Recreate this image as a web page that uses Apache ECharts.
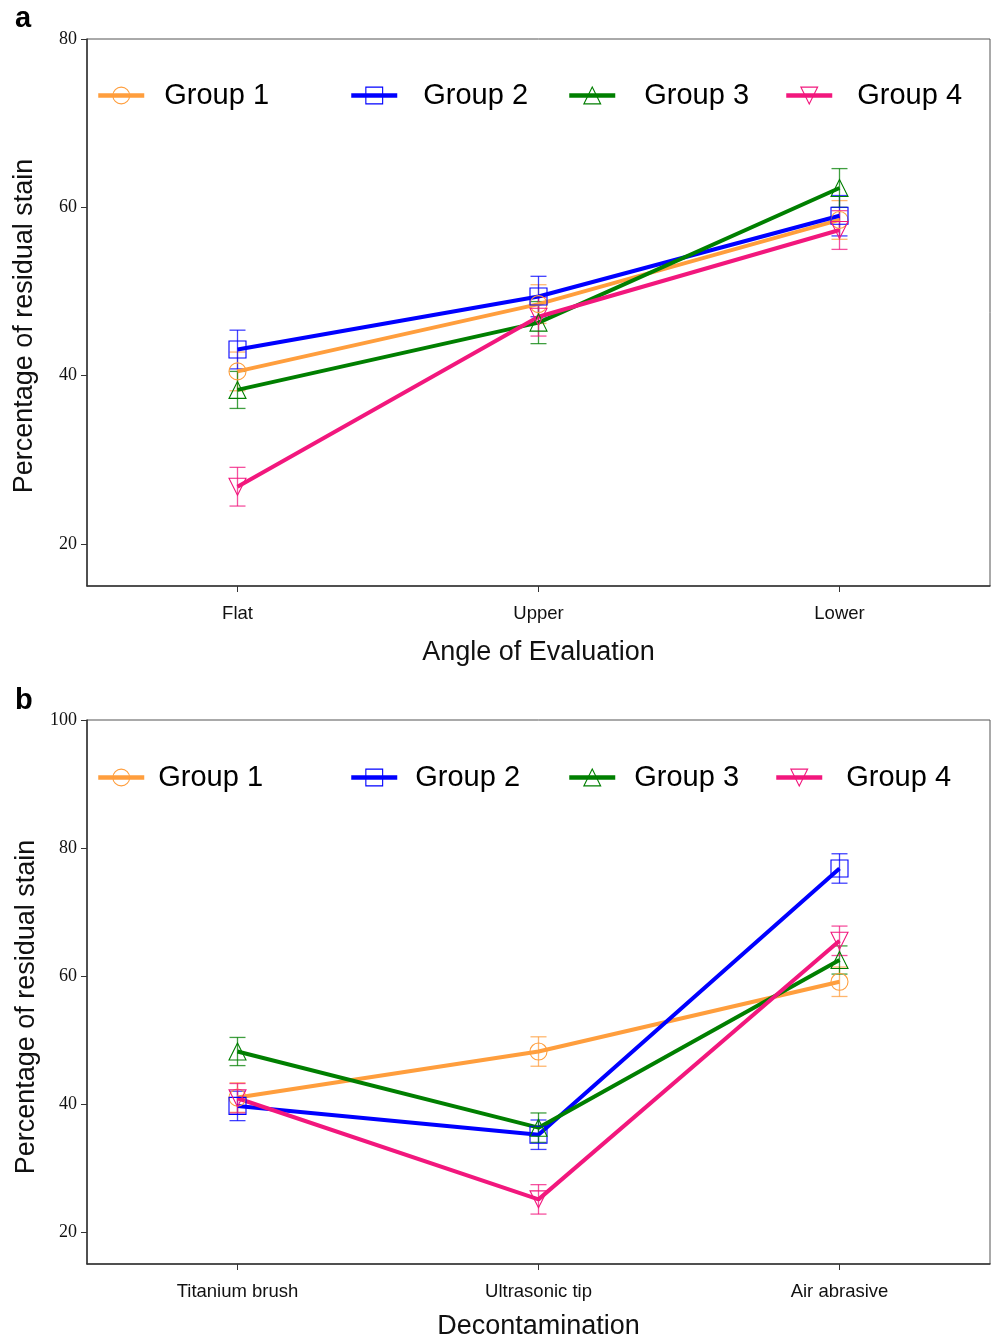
<!DOCTYPE html>
<html>
<head>
<meta charset="utf-8">
<script src="https://cdn.jsdelivr.net/npm/echarts@6/dist/echarts.min.js"></script>
<style>
html,body{margin:0;padding:0;background:#fff;overflow:hidden;}
#chart{width:992px;height:1341px;}
</style>
</head>
<body>
<div id="chart"></div>
<script>
// ---- data ----
const groupNames = ['Group 1', 'Group 2', 'Group 3', 'Group 4'];
const categoriesA = ['Flat', 'Upper', 'Lower'];
const categoriesB = ['Titanium brush', 'Ultrasonic tip', 'Air abrasive'];
const yTicksA = [20, 40, 60, 80];
const yTicksB = [20, 40, 60, 80, 100];
const xTitleA = 'Angle of Evaluation';
const xTitleB = 'Decontamination';
const yTitle = 'Percentage of residual stain';

const a_g1 = [40.5, 48.5, 58.5];
const a_g2 = [43.1, 49.4, 59.0];
const a_g3 = [38.3, 46.3, 62.3];
const a_g4 = [26.8, 47.0, 57.3];
const a_e1 = [2.3, 2.3, 2.3];
const a_e2 = [2.3, 2.4, 2.4];
const a_e3 = [2.2, 2.5, 2.3];
const a_e4 = [2.3, 2.3, 2.3];

const b_g1 = [41.0, 48.2, 59.1];
const b_g2 = [39.7, 35.2, 76.8];
const b_g3 = [48.2, 36.3, 62.5];
const b_g4 = [40.9, 25.1, 65.5];
const b_e1 = [2.3, 2.3, 2.3];
const b_e2 = [2.3, 2.3, 2.3];
const b_e3 = [2.2, 2.3, 2.2];
const b_e4 = [2.3, 2.3, 2.3];

const colors = ['#FF9E3D', '#0000FF', '#007F00', '#F2177D'];
const symbols = ['circle', 'rect', 'triangle', 'triangle'];
const rotations = [0, 0, 0, 180];

const SANS = 'Liberation Sans, Arial, Helvetica, sans-serif';
const SERIF = 'Liberation Serif, Times New Roman, serif';

function errRender(color) {
  return function (params, api) {
    const x = api.value(0), lo = api.value(1), hi = api.value(2);
    const p1 = api.coord([x, lo]);
    const p2 = api.coord([x, hi]);
    const w = 8;
    const style = { stroke: color, lineWidth: 1.3, opacity: 0.75 };
    return {
      type: 'group',
      children: [
        { type: 'line', shape: { x1: p1[0], y1: p1[1], x2: p2[0], y2: p2[1] }, style: style },
        { type: 'line', shape: { x1: p1[0] - w, y1: p1[1], x2: p1[0] + w, y2: p1[1] }, style: style },
        { type: 'line', shape: { x1: p2[0] - w, y1: p2[1], x2: p2[0] + w, y2: p2[1] }, style: style }
      ]
    };
  };
}

function makeSeries(values, errs, gi, axisIdx) {
  const errData = values.map((v, i) => [i, v - errs[i], v + errs[i]]);
  return [
    {
      type: 'custom',
      name: 'err' + axisIdx + '_' + gi,
      xAxisIndex: axisIdx, yAxisIndex: axisIdx,
      renderItem: errRender(colors[gi]),
      data: errData,
      z: 1,
      silent: true
    },
    {
      type: 'line',
      name: groupNames[gi],
      xAxisIndex: axisIdx, yAxisIndex: axisIdx,
      data: values,
      symbol: symbols[gi],
      symbolRotate: rotations[gi],
      symbolSize: 17,
      showSymbol: true,
      lineStyle: { color: colors[gi], width: 4 },
      itemStyle: { color: 'rgba(0,0,0,0)', borderColor: colors[gi], borderWidth: 1.1 },
      z: 2,
      animation: false
    }
  ];
}

const dataA = [a_g1, a_g2, a_g3, a_g4];
const errA = [a_e1, a_e2, a_e3, a_e4];
const dataB = [b_g1, b_g2, b_g3, b_g4];
const errB = [b_e1, b_e2, b_e3, b_e4];

let series = [];
for (let g = 0; g < 4; g++) series = series.concat(makeSeries(dataA[g], errA[g], g, 0));
for (let g = 0; g < 4; g++) series = series.concat(makeSeries(dataB[g], errB[g], g, 1));

const legendLeftA = [96, 349, 567, 784];
const legendPadA = [15, 21, 24, 20];
const legendLeftB = [96, 349, 567, 774];
const legendPadB = [9, 13, 14, 19];

function makeLegend(gi, left, pad, top) {
  return {
    data: [groupNames[gi]],
    left: left,
    top: top,
    padding: 0,
    itemWidth: 46,
    itemHeight: 21,
    selectedMode: false,
    lineStyle: { width: 4.5, color: colors[gi] },
    itemStyle: { color: 'rgba(0,0,0,0)', borderColor: colors[gi], borderWidth: 1.1 },
    textStyle: { fontFamily: SANS, fontSize: 29, color: '#000', padding: [12, 0, 0, pad] }
  };
}

const legends = [];
for (let g = 0; g < 4; g++) legends.push(makeLegend(g, legendLeftA[g], legendPadA[g], 81));
for (let g = 0; g < 4; g++) legends.push(makeLegend(g, legendLeftB[g], legendPadB[g], 763));

function xAxisCfg(cats, name, gridIndex, nameGap) {
  return {
    type: 'category',
    gridIndex: gridIndex,
    data: cats,
    boundaryGap: true,
    name: name,
    nameLocation: 'middle',
    nameGap: nameGap,
    nameTextStyle: { fontFamily: SANS, fontSize: 27, color: '#111' },
    axisLine: { show: true, lineStyle: { color: '#333', width: 1.5 } },
    axisTick: { show: true, alignWithLabel: true, length: 6, lineStyle: { color: '#333', width: 1 } },
    axisLabel: { fontFamily: SANS, fontSize: 18.5, color: '#111', margin: 18 },
    splitLine: { show: false }
  };
}

function yAxisCfg(min, max, ticks, gridIndex) {
  return {
    type: 'value',
    gridIndex: gridIndex,
    min: min,
    max: max,
    axisLine: { show: true, lineStyle: { color: '#333', width: 1.5 } },
    axisTick: { show: true, length: 6, customValues: ticks, lineStyle: { color: '#333', width: 1 } },
    axisLabel: { fontFamily: SERIF, fontSize: 18, color: '#111', margin: 10, customValues: ticks },
    splitLine: { show: false }
  };
}

const option = {
  backgroundColor: '#fff',
  animation: false,
  grid: [
    { left: 87, top: 39, width: 903, height: 547, show: true, borderColor: '#555', borderWidth: 1, containLabel: false },
    { left: 87, top: 720, width: 903, height: 547, show: true, borderColor: '#555', borderWidth: 1, containLabel: false }
  ],
  xAxis: [
    xAxisCfg(categoriesA, xTitleA, 0, 53),
    xAxisCfg(categoriesB, xTitleB, 1, 49)
  ],
  yAxis: [
    yAxisCfg(15, 80, yTicksA, 0),
    yAxisCfg(15, 100, yTicksB, 1)
  ],
  legend: legends,
  graphic: [
    { type: 'text', left: 15, top: 4, style: { text: 'a', font: 'bold 29px ' + SANS, fill: '#000' } },
    { type: 'text', left: 15, top: 686, style: { text: 'b', font: 'bold 29px ' + SANS, fill: '#000' } },
    { type: 'text', x: 25, y: 326, rotation: Math.PI / 2,
      style: { text: yTitle, x: 0, y: 0, align: 'center', verticalAlign: 'middle', font: '27px ' + SANS, fill: '#111' } },
    { type: 'text', x: 27, y: 1007, rotation: Math.PI / 2,
      style: { text: yTitle, x: 0, y: 0, align: 'center', verticalAlign: 'middle', font: '27px ' + SANS, fill: '#111' } }
  ],
  series: series
};

const chart = echarts.init(document.getElementById('chart'), null, { renderer: 'canvas' });
chart.setOption(option);
</script>
</body>
</html>
